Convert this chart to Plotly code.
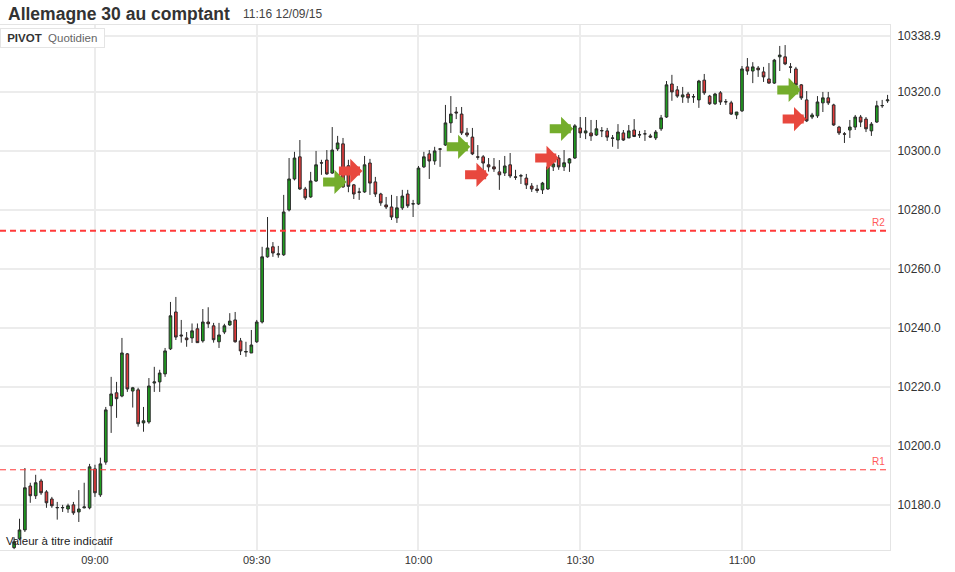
import pandas as pd
import plotly.graph_objects as go

# ---- data (1-minute candles, 08:45 -> 11:27) ----
start_time = "2015-09-12 08:45"
opens = [10165.5, 10168.5, 10171.5, 10186.4, 10183.1, 10188.1, 10184.4, 10182.0, 10179.0, 10179.0,
         10178.6, 10180.0, 10177.6, 10179.0, 10179.0,
         10192.2, 10183.4, 10194.5, 10213.6, 10218.0, 10216.9, 10231.2, 10218.6, 10219.0, 10207.8,
         10208.1, 10221.3, 10221.7, 10224.4, 10232.9, 10245.4, 10237.6, 10236.6, 10236.6, 10239.7,
         10235.6, 10242.0, 10240.7, 10235.3, 10238.6, 10241.0, 10242.7, 10235.6, 10231.8, 10231.5,
         10235.3,
         10242.0, 10264.1, 10267.5, 10264.8, 10264.8, 10280.0, 10290.5, 10298.0, 10287.1, 10284.4,
         10289.8, 10296.0, 10296.9, 10292.5, 10300.7, 10302.4, 10295.0, 10288.5, 10286.1, 10286.1,
         10295.9, 10289.5, 10285.4, 10281.7, 10281.0, 10277.3, 10280.7, 10285.4, 10282.0, 10282.0,
         10294.6, 10299.0, 10296.6, 10300.7, 10302.0, 10309.5, 10313.2, 10312.5, 10306.1, 10304.7,
         10298.0, 10298.0, 10295.3, 10294.6, 10292.9, 10292.5, 10295.3, 10291.2, 10291.5, 10290.8,
         10288.1, 10287.1, 10286.8, 10287.1, 10294.6, 10297.6, 10294.6, 10295.9, 10297.6, 10307.8,
         10306.1, 10306.1, 10305.4, 10306.8, 10306.8, 10304.4, 10303.7, 10306.1, 10304.4, 10307.1,
         10305.4, 10305.8, 10305.1, 10304.4, 10307.5, 10311.5, 10322.7, 10320.7, 10318.3, 10319.3,
         10318.3, 10317.3, 10324.0, 10318.6, 10316.0, 10319.7, 10316.6, 10316.3, 10312.2, 10313.6,
         10328.5, 10327.1, 10328.1, 10326.8, 10324.4, 10323.0, 10331.9, 10331.9, 10328.5, 10327.8,
         10322.4, 10317.3, 10311.5, 10311.9, 10316.3, 10318.0, 10315.6, 10308.1, 10305.8, 10307.1,
         10308.1, 10311.5, 10310.8, 10306.8, 10309.8, 10315.3, 10317.0]
highs = [10169.0, 10175.3, 10192.5, 10187.5, 10190.2, 10188.8, 10185.0, 10182.7, 10181.0, 10180.0,
         10180.4, 10181.0, 10185.0, 10187.5, 10193.9,
         10193.6, 10196.0, 10213.2, 10223.4, 10221.7, 10236.6, 10231.5, 10220.0, 10219.7, 10213.2,
         10223.0, 10226.8, 10225.8, 10233.2, 10248.8, 10250.5, 10242.7, 10238.6, 10241.5, 10241.5,
         10246.4, 10247.0, 10241.7, 10241.7, 10241.4, 10245.0, 10245.4, 10236.6, 10235.3, 10239.3,
         10242.7,
         10267.5, 10277.6, 10269.1, 10267.8, 10285.1, 10297.6, 10299.7, 10303.7, 10287.8, 10292.9,
         10300.0, 10297.0, 10300.3, 10308.1, 10305.1, 10304.4, 10297.0, 10288.8, 10287.5, 10298.3,
         10297.3, 10291.2, 10285.8, 10284.4, 10285.1, 10284.7, 10286.8, 10286.8, 10283.4, 10294.9,
         10299.7, 10300.3, 10301.4, 10301.0, 10315.6, 10318.6, 10314.9, 10314.9, 10307.8, 10307.8,
         10302.0, 10298.6, 10297.6, 10297.6, 10296.9, 10298.3, 10299.3, 10293.6, 10292.2, 10292.2,
         10289.1, 10288.5, 10289.5, 10295.3, 10296.6, 10298.6, 10300.3, 10297.6, 10309.1, 10311.5,
         10311.5, 10310.5, 10310.5, 10308.1, 10307.8, 10305.4, 10309.1, 10307.1, 10308.8, 10310.8,
         10306.8, 10307.1, 10305.8, 10307.1, 10312.2, 10323.7, 10325.8, 10322.0, 10321.7, 10320.0,
         10319.3, 10324.1, 10326.1, 10319.0, 10319.7, 10320.3, 10317.6, 10317.0, 10313.2, 10328.8,
         10331.5, 10330.1, 10328.8, 10328.5, 10329.8, 10331.2, 10335.6, 10335.9, 10329.8, 10328.5,
         10322.7, 10320.3, 10312.9, 10318.6, 10320.0, 10320.0, 10316.0, 10308.5, 10306.4, 10310.5,
         10312.2, 10312.2, 10311.5, 10309.8, 10317.0, 10317.3, 10319.0]
lows = [10165.0, 10168.0, 10170.8, 10180.7, 10182.0, 10183.4, 10179.0, 10179.0, 10175.0, 10177.6,
        10177.3, 10176.6, 10174.2, 10178.8, 10178.5,
        10182.7, 10182.7, 10193.6, 10204.4, 10209.5, 10216.5, 10218.3, 10213.0, 10206.5, 10204.8,
        10207.5, 10218.3, 10218.3, 10223.4, 10232.5, 10235.9, 10235.0, 10233.6, 10234.9, 10234.9,
        10235.0, 10240.0, 10235.0, 10233.2, 10237.9, 10240.7, 10235.0, 10230.8, 10230.2, 10231.5,
        10234.9,
        10241.5, 10263.8, 10264.1, 10263.8, 10264.4, 10279.5, 10290.0, 10286.8, 10283.4, 10284.1,
        10289.5, 10291.9, 10291.9, 10292.2, 10300.0, 10287.5, 10286.0, 10283.7, 10283.4, 10285.8,
        10285.1, 10284.4, 10281.4, 10280.3, 10276.6, 10275.6, 10280.0, 10280.7, 10277.6, 10281.7,
        10294.2, 10290.5, 10295.3, 10294.6, 10301.7, 10306.1, 10310.8, 10305.4, 10304.7, 10298.6,
        10297.0, 10293.2, 10293.0, 10292.9, 10286.8, 10291.5, 10290.8, 10290.2, 10288.8, 10287.1,
        10286.1, 10285.8, 10285.4, 10286.8, 10293.2, 10293.6, 10293.2, 10292.9, 10297.3, 10304.4,
        10304.0, 10303.4, 10305.1, 10304.7, 10303.4, 10301.4, 10300.7, 10303.4, 10304.4, 10304.7,
        10304.4, 10303.4, 10304.4, 10303.7, 10306.8, 10311.2, 10317.0, 10318.0, 10316.3, 10316.3,
        10316.3, 10314.6, 10319.0, 10315.6, 10315.6, 10315.6, 10315.6, 10312.2, 10310.8, 10313.2,
        10325.8, 10323.0, 10325.1, 10323.4, 10322.8, 10322.7, 10327.1, 10329.1, 10326.4, 10321.7,
        10317.3, 10309.8, 10310.8, 10311.2, 10313.2, 10315.6, 10308.5, 10305.4, 10302.7, 10304.4,
        10307.1, 10308.1, 10306.4, 10305.1, 10309.5, 10314.6, 10316.3]
closes = [10167.5, 10171.5, 10185.8, 10183.1, 10187.5, 10184.1, 10180.7, 10179.7, 10179.1, 10179.1,
          10179.7, 10177.3, 10178.6, 10179.3, 10192.9,
          10184.1, 10193.9, 10212.2, 10217.6, 10216.0, 10231.5, 10219.3, 10219.7, 10207.5, 10208.5,
          10220.3, 10221.7, 10224.7, 10232.2, 10244.1, 10236.9, 10237.3, 10236.0, 10239.0, 10235.0,
          10242.0, 10241.4, 10236.0, 10237.6, 10240.7, 10242.3, 10235.3, 10232.2, 10232.0, 10234.2,
          10242.0,
          10264.1, 10267.1, 10265.4, 10265.1, 10279.3, 10290.5, 10297.6, 10287.1, 10284.1, 10289.8,
          10295.3, 10295.9, 10292.2, 10300.3, 10302.7, 10287.8, 10288.0, 10285.4, 10286.0, 10295.3,
          10289.1, 10285.4, 10282.4, 10281.0, 10277.6, 10280.7, 10284.7, 10281.4, 10282.1, 10294.2,
          10298.0, 10296.6, 10300.0, 10300.6, 10309.5, 10312.5, 10312.9, 10306.1, 10305.4, 10299.0,
          10297.9, 10295.9, 10294.6, 10293.9, 10291.9, 10294.9, 10291.5, 10291.1, 10291.6, 10288.5,
          10287.1, 10286.6, 10289.1, 10294.6, 10295.6, 10294.6, 10296.0, 10297.3, 10308.5, 10306.1,
          10306.8, 10305.1, 10307.5, 10306.9, 10304.7, 10304.3, 10306.4, 10303.7, 10306.8, 10304.9,
          10305.5, 10305.8, 10304.7, 10306.4, 10311.2, 10322.4, 10320.0, 10318.6, 10319.0, 10318.0,
          10318.4, 10323.7, 10319.7, 10316.0, 10319.3, 10316.6, 10316.7, 10312.5, 10313.2, 10327.8,
          10327.1, 10328.5, 10327.5, 10325.1, 10323.0, 10330.8, 10332.5, 10329.5, 10328.4, 10322.4,
          10318.0, 10310.2, 10312.2, 10316.6, 10318.0, 10316.3, 10308.8, 10306.1, 10305.7, 10308.1,
          10311.5, 10309.8, 10307.5, 10309.1, 10315.3, 10315.4, 10317.3]

times = pd.date_range(start_time, periods=len(opens), freq="1min")

# pivot levels
pivot_names = ["R1", "R2"]
pivot_values = [10191.9, 10272.9]

# signals (arrow tips)
buy_times = ["2015-09-12 09:46:40", "2015-09-12 10:09:36", "2015-09-12 10:28:42", "2015-09-12 11:10:54"]
buy_prices = [10289.5, 10301.4, 10307.5, 10320.7]
sell_times = ["2015-09-12 09:49:36", "2015-09-12 10:13:00", "2015-09-12 10:26:00", "2015-09-12 11:11:54"]
sell_prices = [10293.2, 10291.9, 10297.6, 10310.8]

y_tickvals = [10180, 10200, 10220, 10240, 10260, 10280, 10300, 10320, 10338.9]
y_ticktext = ["10180.0", "10200.0", "10220.0", "10240.0", "10260.0", "10280.0", "10300.0", "10320.0", "10338.9"]
x_tickvals = ["2015-09-12 09:00", "2015-09-12 09:30", "2015-09-12 10:00", "2015-09-12 10:30", "2015-09-12 11:00"]
x_ticktext = ["09:00", "09:30", "10:00", "10:30", "11:00"]

FONT = "Liberation Sans, Arial, sans-serif"

fig = go.Figure()
fig.add_trace(go.Candlestick(
    x=times, open=opens, high=highs, low=lows, close=closes,
    increasing=dict(fillcolor="#1f9e1f", line=dict(color="#2a2a2a", width=1)),
    decreasing=dict(fillcolor="#e23b3b", line=dict(color="#2a2a2a", width=1)),
    whiskerwidth=0, hoverinfo="skip", showlegend=False,
))

shapes = []
annotations = []
for name, val in zip(pivot_names, pivot_values):
    w = 2 if name == "R2" else 1
    shapes.append(dict(type="line", xref="paper", x0=0, x1=1, yref="y", y0=val, y1=val,
                       line=dict(color="#ff3a3a", width=w, dash="6px,4px"), layer="above"))
    annotations.append(dict(xref="paper", x=0.997, xanchor="right", yref="y", y=val, yanchor="bottom",
                            yshift=1, text=name, showarrow=False,
                            font=dict(family=FONT, size=10, color="#ff5a5a")))

for t, p in zip(buy_times, buy_prices):
    annotations.append(dict(x=t, y=p, xref="x", yref="y", text="", showarrow=True, ax=-25, ay=0,
                            arrowhead=1, arrowsize=0.45, arrowwidth=9, arrowcolor="#74ad2c", standoff=0))
for t, p in zip(sell_times, sell_prices):
    annotations.append(dict(x=t, y=p, xref="x", yref="y", text="", showarrow=True, ax=-25, ay=0,
                            arrowhead=1, arrowsize=0.45, arrowwidth=9, arrowcolor="#e8483e", standoff=0))

# header texts
annotations += [
    dict(xref="paper", yref="paper", x=0.007, y=1.0 + 11 / 525, xanchor="left", yanchor="middle",
         text="<b>Allemagne 30 au comptant</b>", showarrow=False,
         font=dict(family=FONT, size=17.5, color="#333333")),
    dict(xref="paper", yref="paper", x=241 / 890, y=1.0 + 11 / 525, xanchor="left", yanchor="middle",
         text="11:16 12/09/15", showarrow=False, font=dict(family=FONT, size=12, color="#444444")),
    dict(xref="paper", yref="paper", x=0, y=1.0 - 3 / 525, xanchor="left", yanchor="top",
         text="&nbsp;<b>PIVOT</b>&nbsp;&nbsp;<span style='color:#666'>Quotidien</span>&nbsp;", showarrow=False,
         font=dict(family=FONT, size=11.5, color="#333333"), bgcolor="#ffffff",
         bordercolor="#e4e4e4", borderwidth=1, borderpad=3),
    dict(xref="paper", yref="paper", x=4 / 890, y=9 / 525, xanchor="left", yanchor="middle",
         text="Valeur à titre indicatif", showarrow=False,
         font=dict(family=FONT, size=11.5, color="#222222")),
]

fig.update_layout(
    width=955, height=572,
    margin=dict(l=0, r=65, t=25, b=22),
    paper_bgcolor="#ffffff", plot_bgcolor="#ffffff",
    font=dict(family=FONT, color="#333333"),
    shapes=shapes, annotations=annotations,
    xaxis=dict(type="date", range=["2015-09-12 08:42:23", "2015-09-12 11:27:27"],
               rangeslider=dict(visible=False), tickvals=x_tickvals, ticktext=x_ticktext,
               showgrid=True, gridcolor="#ececec", gridwidth=2, zeroline=False,
               showline=True, linecolor="#e4e4e4", linewidth=1, mirror=True,
               ticks="", tickfont=dict(family=FONT, size=11, color="#333333"), automargin=False),
    yaxis=dict(side="right", range=[10164.7, 10342.7], tickvals=y_tickvals, ticktext=y_ticktext,
               showgrid=True, gridcolor="#ececec", gridwidth=2, zeroline=False,
               showline=True, linecolor="#e4e4e4", linewidth=1, mirror=True, ticklabelstandoff=4,
               ticks="", tickfont=dict(family=FONT, size=12, color="#333333"), automargin=False),
    hovermode=False,
)

fig.write_html("out.html", config={"displayModeBar": False},
               post_script="document.body.style.margin='0px';document.body.style.overflow='hidden';")
